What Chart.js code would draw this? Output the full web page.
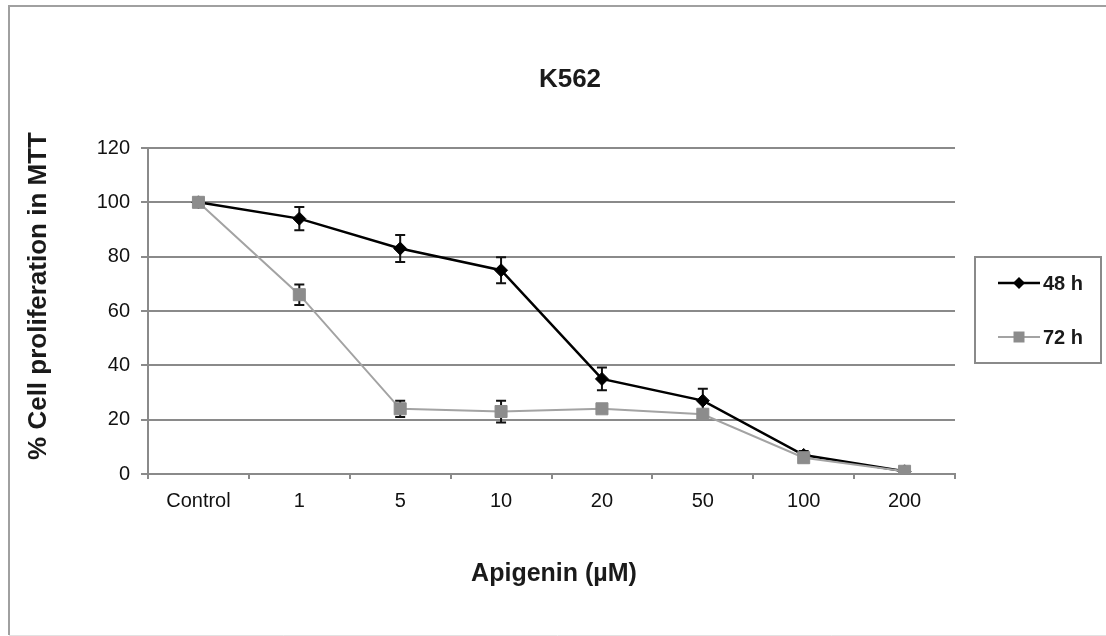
<!DOCTYPE html>
<html>
<head>
<meta charset="utf-8">
<script src="https://cdn.jsdelivr.net/npm/chart.js@4"></script>
<style>
html,body{margin:0;padding:0;background:#fff;}
#c{display:block;}
</style>
</head>
<body>
<canvas id="c" width="1106" height="636"></canvas>
<script>
const categories = ['Control', '1', '5', '10', '20', '50', '100', '200'];
const yTicks = [0, 20, 40, 60, 80, 100, 120];
const h48 = [100, 94, 83, 75, 35, 27, 7, 1];
const h48err = [0, 4.3, 5, 4.8, 4.2, 4.4, 1.5, 0];
const h72 = [100, 66, 24, 23, 24, 22, 6, 1];
const h72err = [0, 3.8, 3, 4, 1.5, 1, 1.5, 0];
const seriesNames = ['48 h', '72 h'];
const chartTitle = 'K562';
const xTitle = 'Apigenin (µM)';
const yTitle = '% Cell proliferation in MTT';

const FONT = '"Liberation Sans", Arial, sans-serif';

const deco = {
  id: 'deco',
  beforeDraw(chart) {
    const ctx = chart.ctx;
    ctx.save();
    ctx.fillStyle = '#fff';
    ctx.fillRect(0, 0, chart.width, chart.height);
    ctx.restore();
  },
  beforeDatasetsDraw(chart) {
    const ctx = chart.ctx;
    const xs = chart.scales.x, ys = chart.scales.y;
    ctx.save();
    ctx.strokeStyle = '#111';
    ctx.lineWidth = 2;
    const sets = [[h48, h48err], [h72, h72err]];
    sets.forEach(([vals, errs]) => {
      vals.forEach((v, i) => {
        const e = errs[i];
        if (!e) return;
        const x = xs.getPixelForValue(i);
        const yt = ys.getPixelForValue(v + e);
        const yb = ys.getPixelForValue(v - e);
        ctx.beginPath();
        ctx.moveTo(x, yt); ctx.lineTo(x, yb);
        ctx.moveTo(x - 5, yt); ctx.lineTo(x + 5, yt);
        ctx.moveTo(x - 5, yb); ctx.lineTo(x + 5, yb);
        ctx.stroke();
      });
    });
    ctx.restore();
  },
  afterDraw(chart) {
    const ctx = chart.ctx;
    ctx.save();
    // outer frame
    ctx.strokeStyle = '#a0a0a0';
    ctx.lineWidth = 2;
    ctx.beginPath();
    ctx.moveTo(9, 635); ctx.lineTo(9, 6); ctx.lineTo(1110, 6);
    ctx.stroke();
    ctx.strokeStyle = '#e2e2e2';
    ctx.lineWidth = 1;
    ctx.beginPath();
    ctx.moveTo(9, 635.5); ctx.lineTo(1106, 635.5);
    ctx.stroke();

    ctx.fillStyle = '#1a1a1a';
    ctx.textAlign = 'center';
    ctx.textBaseline = 'middle';
    // title
    ctx.font = 'bold 26px ' + FONT;
    ctx.fillText(chartTitle, 570, 80);
    // x title
    ctx.font = 'bold 25px ' + FONT;
    ctx.fillText(xTitle, 554, 574);
    // y title
    ctx.save();
    ctx.translate(39, 296);
    ctx.rotate(-Math.PI / 2);
    ctx.font = 'bold 26px ' + FONT;
    ctx.fillText(yTitle, 0, 0);
    ctx.restore();

    // legend
    ctx.strokeStyle = '#8a8a8a';
    ctx.lineWidth = 2;
    ctx.strokeRect(975, 257, 126, 106);
    const rows = [283, 337];
    chart.data.datasets.slice().sort((a, b) => seriesNames.indexOf(a.label) - seriesNames.indexOf(b.label)).forEach((ds, k) => {
      const y = rows[k];
      ctx.strokeStyle = ds.borderColor;
      ctx.lineWidth = ds.borderWidth;
      ctx.beginPath();
      ctx.moveTo(998, y); ctx.lineTo(1040, y);
      ctx.stroke();
      ctx.fillStyle = ds.pointBackgroundColor;
      ctx.beginPath();
      if (ds.pointStyle === 'rectRot') {
        const r = 6;
        ctx.moveTo(1019, y - r); ctx.lineTo(1019 + r, y); ctx.lineTo(1019, y + r); ctx.lineTo(1019 - r, y);
        ctx.closePath();
      } else {
        ctx.rect(1019 - 5.5, y - 5.5, 11, 11);
      }
      ctx.fill();
      ctx.fillStyle = '#1a1a1a';
      ctx.font = 'bold 20px ' + FONT;
      ctx.textAlign = 'left';
      ctx.fillText(ds.label, 1043, y + 1);
    });
    ctx.restore();
  }
};

new Chart(document.getElementById('c'), {
  type: 'line',
  data: {
    labels: categories,
    datasets: [
      {
        label: seriesNames[1],
        data: h72,
        borderColor: '#a3a3a3',
        borderWidth: 2,
        pointStyle: 'rect',
        pointRadius: 8.5,
        pointHoverRadius: 8.5,
        pointBackgroundColor: '#8c8c8c',
        pointBorderColor: '#8c8c8c',
        pointBorderWidth: 1,
        tension: 0,
        order: 0
      },
      {
        label: seriesNames[0],
        data: h48,
        borderColor: '#000',
        borderWidth: 2.5,
        pointStyle: 'rectRot',
        pointRadius: 6.5,
        pointHoverRadius: 6.5,
        pointBackgroundColor: '#000',
        pointBorderColor: '#000',
        pointBorderWidth: 1,
        tension: 0,
        order: 1
      }
    ]
  },
  options: {
    responsive: false,
    devicePixelRatio: 1,
    animation: false,
    events: [],
    layout: { padding: { left: 0, right: 151, top: 148, bottom: 0 } },
    plugins: {
      legend: { display: false },
      title: { display: false },
      tooltip: { enabled: false }
    },
    scales: {
      x: {
        type: 'category',
        offset: true,
        grid: {
          display: true,
          drawOnChartArea: false,
          drawTicks: true,
          tickLength: 5,
          color: '#8a8a8a',
          lineWidth: 2,
          offset: true
        },
        border: { display: true, color: '#8a8a8a', width: 2 },
        ticks: {
          color: '#111',
          font: { family: FONT, size: 20 },
          padding: 10,
          maxRotation: 0,
          autoSkip: false
        },
        afterFit(scale) { scale.height = 162; }
      },
      y: {
        min: 0,
        max: 120,
        afterBuildTicks(scale) { scale.ticks = yTicks.map(v => ({ value: v })); },
        grid: {
          color: '#8a8a8a',
          lineWidth: 2,
          drawTicks: true,
          tickLength: 7
        },
        border: { display: true, color: '#8a8a8a', width: 2 },
        ticks: {
          color: '#111',
          font: { family: FONT, size: 20 },
          padding: 11
        },
        afterFit(scale) { scale.width = 148; }
      }
    }
  },
  plugins: [deco]
});
</script>
</body>
</html>
